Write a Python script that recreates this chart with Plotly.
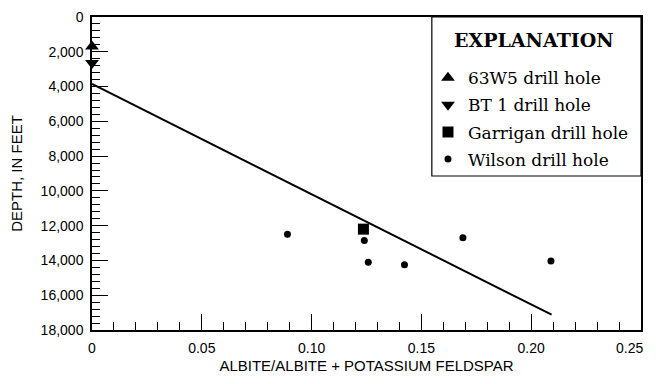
import plotly.graph_objects as go

# Data
w63_x = [0.0]
w63_y = [1700]
bt1_x = [0.0]
bt1_y = [2650]
garrigan_x = [0.1236]
garrigan_y = [12200]
wilson_x = [0.089, 0.124, 0.1258, 0.1423, 0.1689, 0.209]
wilson_y = [12500, 12850, 14100, 14250, 12700, 14030]
trend_x = [0.0, 0.2093]
trend_y = [3850, 17120]
x_tickvals = [0, 0.05, 0.10, 0.15, 0.20, 0.25]
x_ticktext = ["0", "0.05", "0.10", "0.15", "0.20", ""]
x_last_label = "0.25"

serif = "DejaVu Serif, Liberation Serif, serif"
legend_font = dict(family=serif, size=17, color="black")
tick_font = dict(family="Liberation Sans, Arial, sans-serif", size=14, color="black")
title_font = dict(family="Liberation Sans, Arial, sans-serif", size=15, color="black")

fig = go.Figure()
fig.add_trace(go.Scatter(x=trend_x, y=trend_y, mode="lines", line=dict(color="black", width=2),
                         showlegend=False, hoverinfo="skip"))
fig.add_trace(go.Scatter(x=w63_x, y=w63_y, mode="markers", name="63W5 drill hole", legendgroup="a",
                         marker=dict(symbol="triangle-up", size=12, color="black"), cliponaxis=False))
fig.add_trace(go.Scatter(x=bt1_x, y=bt1_y, mode="markers", name="BT 1 drill hole", legendgroup="b",
                         marker=dict(symbol="triangle-down", size=12, color="black"), cliponaxis=False))
fig.add_trace(go.Scatter(x=garrigan_x, y=garrigan_y, mode="markers", name="Garrigan drill hole", legendgroup="c",
                         marker=dict(symbol="square", size=11, color="black")))
fig.add_trace(go.Scatter(x=wilson_x, y=wilson_y, mode="markers", name="Wilson drill hole", legendgroup="d",
                         marker=dict(symbol="circle", size=7, color="black")))

fig.update_layout(
    width=648, height=368,
    margin=dict(l=84, r=15, t=9, b=46),
    paper_bgcolor="white", plot_bgcolor="white",
    showlegend=True,
    legend=dict(
        x=0.612, y=0.862, xanchor="left", yanchor="top",
        borderwidth=0, bgcolor="rgba(0,0,0,0)",
        font=legend_font,
        tracegroupgap=2,
        itemsizing="trace",
    ),
    shapes=[dict(type="rect", xref="paper", yref="paper", x0=0.619, x1=1, y0=0.492, y1=1,
                 line=dict(color="black", width=1.2), fillcolor="white", layer="below")],
    annotations=[
        dict(text="<b>EXPLANATION</b>", xref="paper", yref="paper", x=0.805, y=0.927,
             xanchor="center", yanchor="middle", showarrow=False,
             font=dict(family=serif, size=19, color="black")),
        dict(text=x_last_label, xref="x", yref="paper", x=x_tickvals[-1], y=0,
             xanchor="right", yanchor="middle", xshift=4, yshift=-18, showarrow=False,
             font=tick_font),
    ],
    xaxis=dict(
        range=[0, 0.25], tickvals=x_tickvals, ticktext=x_ticktext,
        ticks="inside", ticklen=16, tickcolor="black", tickwidth=1, ticklabelstandoff=4,
        minor=dict(dtick=0.01, tick0=0, ticks="inside", ticklen=8, tickcolor="black", tickwidth=1, showgrid=False),
        showline=True, linecolor="black", linewidth=1.5, mirror=True,
        showgrid=False, zeroline=False, tickfont=tick_font, automargin=False,
        title=dict(text="ALBITE/ALBITE + POTASSIUM FELDSPAR", font=title_font, standoff=6),
    ),
    yaxis=dict(
        range=[18000, 0], tickvals=list(range(0, 18001, 2000)), tickformat=",d",
        ticks="inside", ticklen=16, tickcolor="black", tickwidth=1, ticklabelstandoff=4,
        minor=dict(dtick=400, tick0=0, ticks="inside", ticklen=8, tickcolor="black", tickwidth=1, showgrid=False),
        showline=True, linecolor="black", linewidth=1.5, mirror=True,
        showgrid=False, zeroline=False, tickfont=tick_font, automargin=False,
        title=dict(text="DEPTH, IN FEET", font=title_font, standoff=14),
    ),
)

fig.write_html("out.html")
